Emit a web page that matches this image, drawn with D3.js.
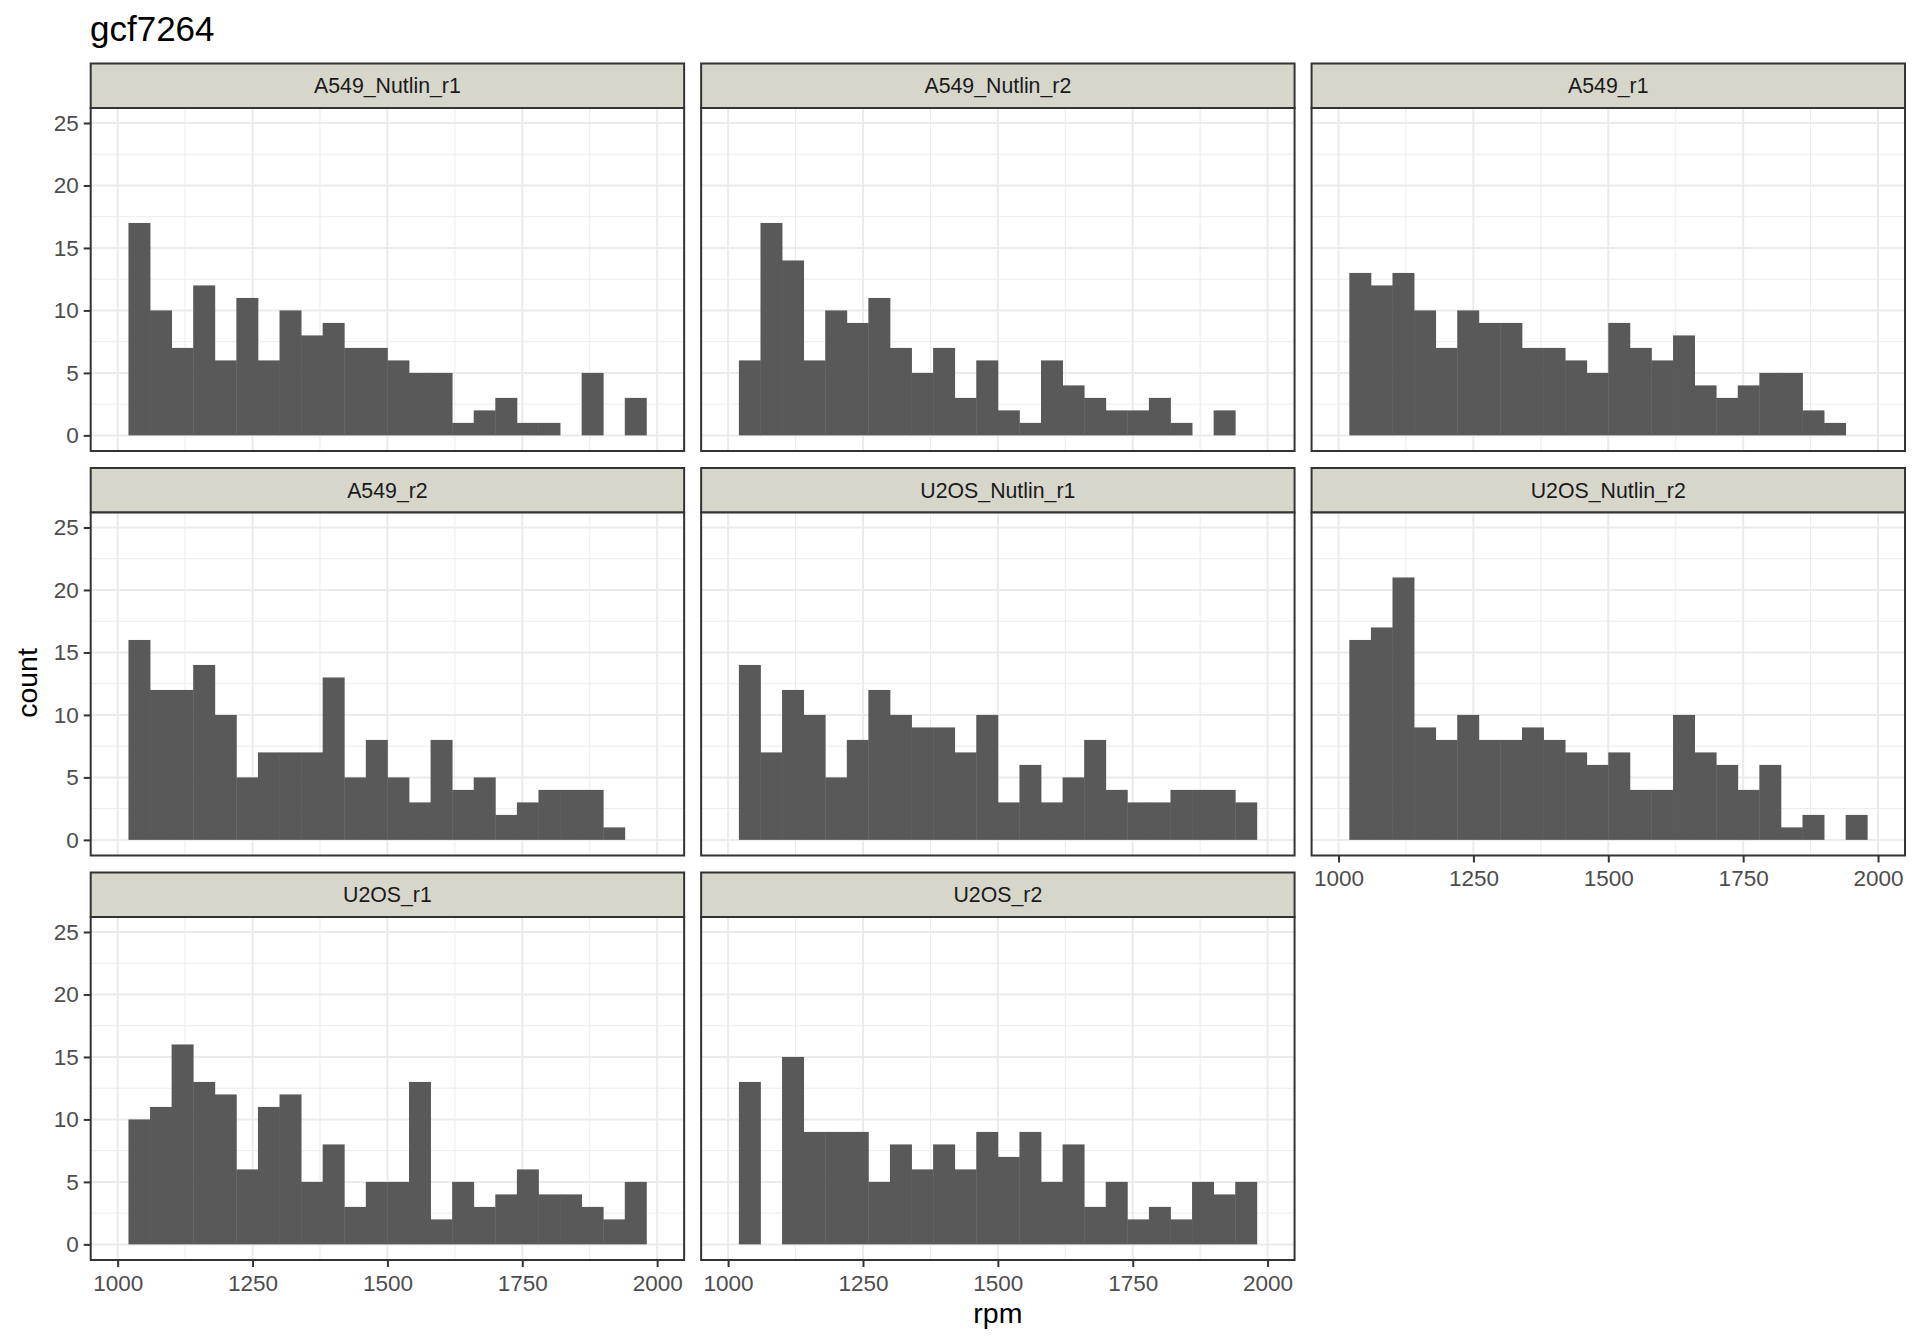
<!DOCTYPE html>
<html>
<head>
<meta charset="utf-8">
<script src="https://cdn.jsdelivr.net/npm/d3@7"></script>
<style>
  body { margin: 0; background: #fff; }
  text { font-family: "Liberation Sans", Arial, Helvetica, sans-serif; }
</style>
</head>
<body>
<script>
// facet names, in the order they are laid out
var panels = ["A549_Nutlin_r1", "A549_Nutlin_r2", "A549_r1", "A549_r2",
              "U2OS_Nutlin_r1", "U2OS_Nutlin_r2", "U2OS_r1", "U2OS_r2"];

// histogram bin edges (rpm), 24 bins
var binEdges = [1020, 1060, 1100, 1140, 1180, 1220, 1260, 1300, 1340, 1380, 1420, 1460, 1500,
                1540, 1580, 1620, 1660, 1700, 1740, 1780, 1820, 1860, 1900, 1940, 1980];

// counts per bin
var a549NutlinR1 = [17, 10, 7, 12, 6, 11, 6, 10, 8, 9, 7, 7, 6, 5, 5, 1, 2, 3, 1, 1, 0, 5, 0, 3];
var a549NutlinR2 = [6, 17, 14, 6, 10, 9, 11, 7, 5, 7, 3, 6, 2, 1, 6, 4, 3, 2, 2, 3, 1, 0, 2, 0];
var a549R1       = [13, 12, 13, 10, 7, 10, 9, 9, 7, 7, 6, 5, 9, 7, 6, 8, 4, 3, 4, 5, 5, 2, 1, 0];
var a549R2       = [16, 12, 12, 14, 10, 5, 7, 7, 7, 13, 5, 8, 5, 3, 8, 4, 5, 2, 3, 4, 4, 4, 1, 0];
var u2osNutlinR1 = [14, 7, 12, 10, 5, 8, 12, 10, 9, 9, 7, 10, 3, 6, 3, 5, 8, 4, 3, 3, 4, 4, 4, 3];
var u2osNutlinR2 = [16, 17, 21, 9, 8, 10, 8, 8, 9, 8, 7, 6, 7, 4, 4, 10, 7, 6, 4, 6, 1, 2, 0, 2];
var u2osR1       = [10, 11, 16, 13, 12, 6, 11, 12, 5, 8, 3, 5, 5, 13, 2, 5, 3, 4, 6, 4, 4, 3, 2, 5];
var u2osR2       = [13, 0, 15, 9, 9, 9, 5, 8, 6, 8, 6, 9, 7, 9, 5, 8, 3, 5, 2, 3, 2, 5, 4, 5];

var seriesByPanel = [a549NutlinR1, a549NutlinR2, a549R1, a549R2,
                     u2osNutlinR1, u2osNutlinR2, u2osR1, u2osR2];

var xTicks = [1000, 1250, 1500, 1750, 2000];
var xMinor = [1125, 1375, 1625, 1875];
var yTicks = [0, 5, 10, 15, 20, 25];
var yMinor = [2.5, 7.5, 12.5, 17.5, 22.5];

var W = 1920, H = 1344;
var svg = d3.select("body").append("svg").attr("width", W).attr("height", H);

// layout (note: "top" is reserved on window, so use other names)
var padLeft = 90.7, padRight = 1905, padTop = 63.5;
var gap = 17, stripH = 44.5, plotH = 343, ncol = 3;
var panelW = (padRight - padLeft - gap * (ncol - 1)) / ncol;

var x = d3.scaleLinear().domain([950, 2050]).range([0, panelW]);
var y = d3.scaleLinear().domain([-1.25, 26.2]).range([plotH, 0]);

var tickCol = "#333333", labCol = "#4d4d4d";
var fontFam = '"Liberation Sans", Arial, Helvetica, sans-serif';
var tickFont = 22.5, stripFont = 21.3;

panels.forEach(function(name, i) {
  var col = i % ncol, row = Math.floor(i / ncol);
  var px = padLeft + col * (panelW + gap);
  var py = padTop + row * (stripH + plotH + gap);
  var counts = seriesByPanel[i];

  // strip
  svg.append("rect")
    .attr("x", px).attr("y", py).attr("width", panelW).attr("height", stripH)
    .attr("fill", "#d6d6cb").attr("stroke", tickCol).attr("stroke-width", 2);
  svg.append("text")
    .attr("x", px + panelW / 2).attr("y", py + stripH / 2)
    .attr("dy", "0.36em").attr("text-anchor", "middle")
    .attr("font-size", stripFont).attr("fill", "#1a1a1a")
    .text(name);

  var g = svg.append("g").attr("transform", "translate(" + px + "," + (py + stripH) + ")");

  g.append("rect").attr("width", panelW).attr("height", plotH).attr("fill", "#fff");

  // grid
  g.selectAll(".xmin").data(xMinor).enter().append("line")
    .attr("x1", x).attr("x2", x).attr("y1", 0).attr("y2", plotH)
    .attr("stroke", "#ebebeb").attr("stroke-width", 1);
  g.selectAll(".ymin").data(yMinor).enter().append("line")
    .attr("y1", y).attr("y2", y).attr("x1", 0).attr("x2", panelW)
    .attr("stroke", "#ebebeb").attr("stroke-width", 1);
  g.selectAll(".xmaj").data(xTicks).enter().append("line")
    .attr("x1", x).attr("x2", x).attr("y1", 0).attr("y2", plotH)
    .attr("stroke", "#ebebeb").attr("stroke-width", 2);
  g.selectAll(".ymaj").data(yTicks).enter().append("line")
    .attr("y1", y).attr("y2", y).attr("x1", 0).attr("x2", panelW)
    .attr("stroke", "#ebebeb").attr("stroke-width", 2);

  // bars
  var bars = counts.map(function(c, j) { return { c: c, x0: binEdges[j], x1: binEdges[j + 1] }; })
                   .filter(function(b) { return b.c > 0; });
  g.selectAll("rect.bar").data(bars).enter().append("rect")
    .attr("class", "bar")
    .attr("x", function(b) { return x(b.x0); })
    .attr("width", function(b) { return x(b.x1) - x(b.x0) + 0.4; })
    .attr("y", function(b) { return y(b.c); })
    .attr("height", function(b) { return y(0) - y(b.c); })
    .attr("fill", "#595959");

  // border
  g.append("rect").attr("width", panelW).attr("height", plotH)
    .attr("fill", "none").attr("stroke", tickCol).attr("stroke-width", 2);

  // y axis on first column
  if (col === 0) {
    var ya = g.append("g").call(d3.axisLeft(y).tickValues(yTicks).tickSize(7).tickPadding(5));
    ya.select(".domain").remove();
    ya.selectAll("line").attr("stroke", tickCol).attr("stroke-width", 2);
    ya.selectAll("text").attr("fill", labCol).attr("font-size", tickFont).attr("font-family", fontFam);
  }
  // x axis under the last panel of each column
  if (i + ncol >= panels.length) {
    var xa = g.append("g").attr("transform", "translate(0," + plotH + ")")
      .call(d3.axisBottom(x).tickValues(xTicks).tickFormat(d3.format("d")).tickSize(7).tickPadding(8));
    xa.select(".domain").remove();
    xa.selectAll("line").attr("stroke", tickCol).attr("stroke-width", 2);
    xa.selectAll("text").attr("fill", labCol).attr("font-size", tickFont).attr("font-family", fontFam);
  }
});

// titles
svg.append("text").attr("x", 90).attr("y", 41)
  .attr("font-size", 35).attr("fill", "#000").text("gcf7264");
svg.append("text").attr("x", (padLeft + padRight) / 2).attr("y", 1323)
  .attr("text-anchor", "middle").attr("font-size", 28.5).attr("fill", "#000").text("rpm");
svg.append("text").attr("transform", "translate(37,683) rotate(-90)")
  .attr("text-anchor", "middle").attr("font-size", 28.5).attr("fill", "#000").text("count");
</script>
</body>
</html>
